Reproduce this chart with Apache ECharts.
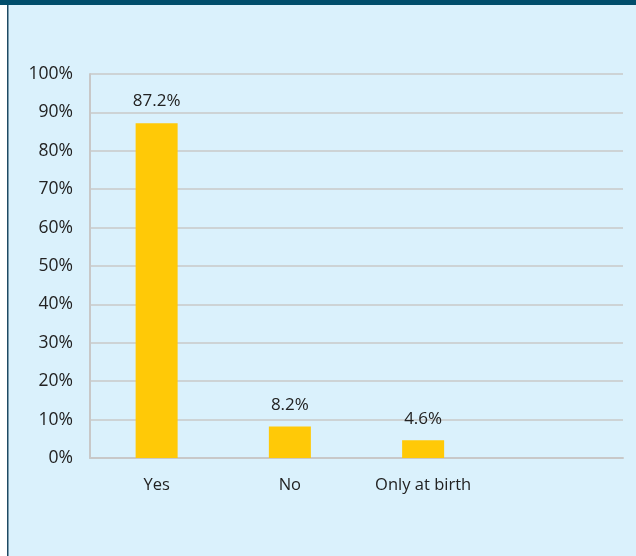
<!DOCTYPE html>
<html>
<head>
<meta charset="utf-8">
<script src="https://cdn.jsdelivr.net/npm/echarts@6/dist/echarts.min.js"></script>
<style>
  html, body { margin: 0; padding: 0; background: #ffffff; }
  #chart { width: 636px; height: 556px; }
</style>
</head>
<body>
<div id="chart"></div>
<script>
// Responses by category (percent); last slot is an empty column
const categories = ['Yes', 'No', 'Only at birth', ''];
const values = [87.2, 8.2, 4.6, null];
const yTicks = { min: 0, max: 100, interval: 10 };

const chart = echarts.init(document.getElementById('chart'));

const font = '"Open Sans", "Noto Sans", sans-serif';

chart.setOption({
  backgroundColor: '#ffffff',
  animation: false,
  graphic: [
    // panel background
    { type: 'rect', shape: { x: 8, y: 0, width: 628, height: 556 }, style: { fill: '#daf1fc' }, z: -10 },
    // left border
    { type: 'rect', shape: { x: 7, y: 0, width: 1.5, height: 556 }, style: { fill: '#1e4a63' }, z: -9 },
    // top band
    { type: 'rect', shape: { x: 0, y: 0, width: 636, height: 5 }, style: { fill: '#004d6b' }, z: -8 }
  ],
  grid: { left: 90, right: 13, top: 74, bottom: 98, containLabel: false },
  xAxis: {
    type: 'category',
    data: categories,
    axisLine: { lineStyle: { color: '#c8c8c8', width: 2 } },
    axisTick: { show: false },
    axisLabel: { color: '#222222', fontSize: 16.5, fontFamily: font, margin: 19 }
  },
  yAxis: {
    type: 'value',
    min: yTicks.min,
    max: yTicks.max,
    interval: yTicks.interval,
    axisLine: { show: true, lineStyle: { color: '#c8c8c8', width: 2 } },
    axisTick: { show: false },
    splitLine: { lineStyle: { color: '#c8c8c8', width: 1.5 } },
    axisLabel: {
      color: '#222222', fontSize: 17.5, fontFamily: font, margin: 17,
      formatter: v => v + '%'
    }
  },
  series: [{
    type: 'bar',
    data: values,
    barWidth: 42,
    itemStyle: { color: '#ffc907' },
    label: {
      show: true,
      position: 'top',
      distance: 13,
      color: '#222222',
      fontSize: 17,
      fontFamily: font,
      formatter: p => p.value.toFixed(1) + '%'
    }
  }]
});
</script>
</body>
</html>
